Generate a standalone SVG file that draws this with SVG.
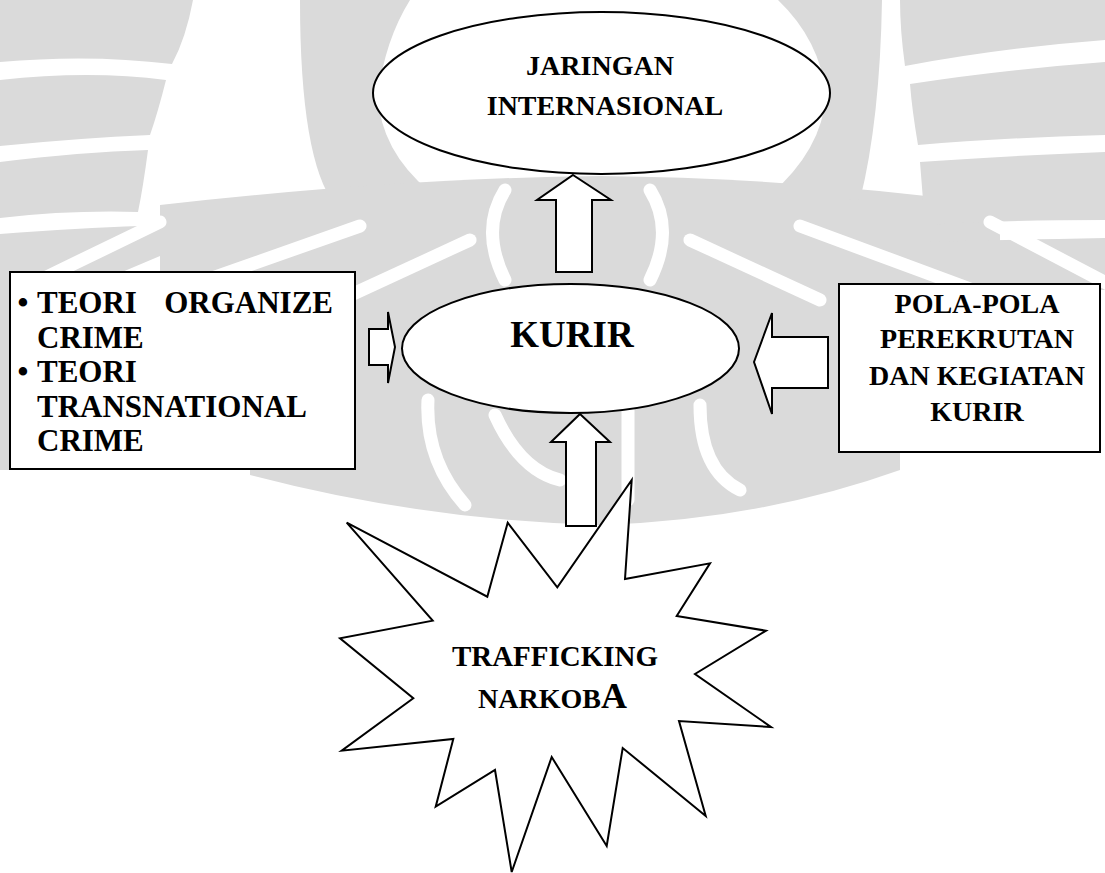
<svg xmlns="http://www.w3.org/2000/svg" width="1105" height="873" viewBox="0 0 1105 873">
<style>
.shape{fill:#fff;stroke:#000;stroke-width:2}
.t{font-family:"Liberation Serif","Times New Roman",serif;font-weight:bold;fill:#000}
.wm{fill:#dadada;stroke:none}
.ws{fill:none;stroke:#fff;stroke-width:13;stroke-linecap:round}
</style>
<rect width="1105" height="873" fill="#fff"/>
<g id="watermark">
<path class="wm" d="M0,0 H193 Q186,38 172,64 Q90,54 0,62 Z"/>
<path class="wm" d="M0,80 Q90,70 166,80 Q158,112 150,135 Q80,138 0,146 Z"/>
<path class="wm" d="M0,162 Q80,152 148,150 Q143,188 138,212 Q70,210 0,218 Z"/>
<path class="wm" d="M0,234 Q80,228 140,226 L200,214 L260,214 Q150,260 80,290 L0,290 Z"/>
<path class="wm" d="M300,0 H410 Q385,40 378,95 Q380,150 430,192 L335,205 Q300,160 300,0 Z"/>
<path class="wm" d="M160,205 Q400,178 600,176 Q800,178 1000,205 L1000,290 L160,290 Z"/>
<path class="wm" d="M250,280 H900 V470 Q760,520 600,525 Q420,520 250,475 Z"/>
<path class="wm" d="M0,280 H12 V470 H0 Z"/>
<path class="wm" d="M778,0 H882 Q880,120 860,200 L770,195 Q822,150 826,95 Q820,40 778,0 Z"/>
<path class="wm" d="M900,0 H1105 V40 Q1000,48 905,66 Q900,30 900,0 Z"/>
<path class="wm" d="M910,84 Q1000,70 1105,62 V135 Q1000,138 918,145 Q912,110 910,84 Z"/>
<path class="wm" d="M920,162 Q1000,156 1105,152 V220 Q1000,220 925,225 Z"/>
<path class="wm" d="M925,242 Q1000,240 1105,238 V290 H925 Z"/>
<path class="ws" d="M30,285 L160,222"/>
<path class="ws" d="M150,300 L360,226"/>
<path class="ws" d="M340,300 L470,240"/>
<path class="ws" d="M1110,285 L990,222"/>
<path class="ws" d="M1000,300 L800,226"/>
<path class="ws" d="M820,300 L690,240"/>
<path class="ws" d="M505,190 Q480,230 505,280"/>
<path class="ws" d="M650,190 Q675,230 650,280"/>
<path class="ws" d="M428,400 Q425,460 465,505"/>
<path class="ws" d="M495,415 Q520,470 560,480"/>
<path class="ws" d="M628,410 V500"/>
<path class="ws" d="M700,405 Q700,470 740,490"/>
</g>
<g id="connectors">
<polygon class="shape" points="573,175 611,200 592,200 592,272 556,272 556,200 537,200"/>
<polygon class="shape" points="580,414 610,442 596,442 596,526 566,526 566,442 551,442"/>
<polygon class="shape" points="369,329 388,329 388,312 395,347 388,383 388,365 369,365"/>
<polygon class="shape" points="754,362 772,313 772,337 828,337 828,388 772,388 772,414"/>
</g>
<g id="jaringan">
<ellipse class="shape" cx="601.5" cy="93" rx="228.5" ry="81"/>
<text class="t" font-size="28" x="600" y="75" text-anchor="middle">JARINGAN</text>
<text class="t" font-size="28" x="605" y="115" text-anchor="middle">INTERNASIONAL</text>
</g>
<g id="kurir">
<ellipse class="shape" cx="570.5" cy="348.5" rx="168.5" ry="64.5"/>
<text class="t" font-size="37" x="572" y="347" text-anchor="middle">KURIR</text>
</g>
<g id="teori">
<rect class="shape" x="10" y="272" width="345" height="197"/>
<text class="t" font-size="31" x="17.5" y="313">•</text>
<text class="t" font-size="31" x="37" y="313">TEORI</text>
<text class="t" font-size="31" x="333" y="313" text-anchor="end">ORGANIZE</text>
<text class="t" font-size="31" x="37" y="347.5">CRIME</text>
<text class="t" font-size="31" x="17.5" y="382">•</text>
<text class="t" font-size="31" x="37" y="382">TEORI</text>
<text class="t" font-size="31" x="37" y="416.5">TRANSNATIONAL</text>
<text class="t" font-size="31" x="37" y="451">CRIME</text>
</g>
<g id="pola">
<rect class="shape" x="839" y="284" width="261" height="168"/>
<text class="t" font-size="28" x="977" y="313" text-anchor="middle">POLA-POLA</text>
<text class="t" font-size="28" x="977" y="348" text-anchor="middle">PEREKRUTAN</text>
<text class="t" font-size="28" x="977" y="385" text-anchor="middle">DAN KEGIATAN</text>
<text class="t" font-size="28" x="977" y="421" text-anchor="middle">KURIR</text>
</g>
<g id="trafficking">
<polygon class="shape" points="631.7,480 625,579 710,563.3 676.7,616 766,630.7 695,674 771,727 679,721 705.7,816 622.7,748 606.7,846 551.7,757 511.7,872 495,770 435.7,806.7 453.3,739 341.7,750.7 413.3,698.3 340,638.3 432.7,620.7 346.7,522.7 487.3,596.7 507.7,522.7 557.3,587.3"/>
<text class="t" font-size="29" x="555" y="666" text-anchor="middle">TRAFFICKING</text>
<text class="t" x="478" y="708"><tspan font-size="28">NARKOB</tspan><tspan font-size="36">A</tspan></text>
</g>
</svg>
